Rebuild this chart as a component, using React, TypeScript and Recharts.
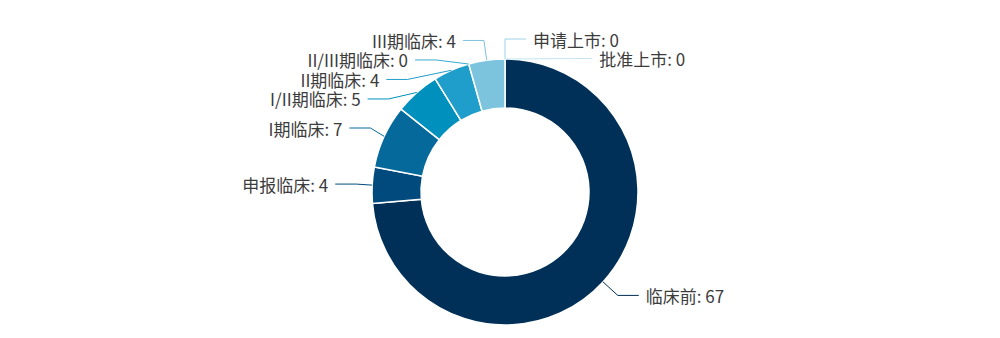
import React from 'react';
import { PieChart, Pie, Cell } from 'recharts';

const stageNames = ['临床前', '申报临床', 'I期临床', 'I/II期临床', 'II期临床', 'II/III期临床', 'III期临床', '申请上市', '批准上市'];
const stageValues = [67, 4, 7, 5, 4, 0, 4, 0, 0];
const stageColors = ['#003057', '#004a7e', '#06699b', '#0090bd', '#209ecb', '#3daad4', '#7cc4de', '#9fd4ea', '#c3e6f3'];

const data = stageNames.map((name, i) => ({ name, value: stageValues[i] }));

const W = 1000;
const H = 338;
const CX = 505;
const CY = 192;
const R_IN = 84;
const R_OUT = 133;
const LEN1 = 20;
const LEN2 = 21;
const GAP = 7;
const LINE_H = 19.5;
const RE_R = 149;
const RAD = Math.PI / 180;
const FONT = '"Noto Sans CJK SC", "Noto Sans", sans-serif';

type LabelPos = { ex: number; ey: number; right: boolean };

function computeLayout(): LabelPos[] {
  const total = stageValues.reduce((a, b) => a + b, 0);
  let cum = 0;
  const items = stageValues.map((v, i) => {
    const start = 90 - (cum / total) * 360;
    cum += v;
    const end = 90 - (cum / total) * 360;
    const mid = (start + end) / 2;
    const c = Math.cos(mid * RAD);
    const s = Math.sin(mid * RAD);
    const ey = CY - (R_OUT + LEN1) * s;
    return {
      i,
      ex: CX + (R_OUT + LEN1) * c,
      ey,
      right: c > -1e-6,
      top: ey < CY,
    };
  });
  [true, false].forEach((side) => {
    const list = items.filter((it) => it.right === side).sort((a, b) => a.ey - b.ey || a.i - b.i);
    const shiftedSemis = new Set<boolean>();
    for (let k = 1; k < list.length; k++) {
      if (list[k].ey < list[k - 1].ey + LINE_H) {
        list[k].ey = list[k - 1].ey + LINE_H;
        shiftedSemis.add(list[k].ey < CY);
      }
    }
    list.forEach((it) => {
      const top = it.ey < CY;
      if (shiftedSemis.has(top)) {
        const dy = it.ey - CY;
        if (Math.abs(dy) < RE_R) {
          const dx = Math.sqrt(RE_R * RE_R - dy * dy);
          it.ex = CX + (it.right ? dx : -dx);
        }
      }
    });
  });
  return items.map((it) => ({ ex: it.ex, ey: it.ey, right: it.right }));
}

const layout = computeLayout();

const renderLabel = (props: any) => {
  const { cx, cy, midAngle, outerRadius, index } = props;
  const sx = cx + outerRadius * Math.cos(-midAngle * RAD);
  const sy = cy + outerRadius * Math.sin(-midAngle * RAD);
  const p = layout[index];
  const dir = p.right ? 1 : -1;
  const hx = p.ex + dir * LEN2;
  const color = stageColors[index];
  return (
    <g key={`lbl-${index}`}>
      <path
        d={`M${sx},${sy}L${p.ex},${p.ey}L${hx},${p.ey}`}
        stroke={color}
        strokeWidth={1}
        fill="none"
      />
      <text
        x={hx + dir * GAP}
        y={p.ey}
        textAnchor={p.right ? 'start' : 'end'}
        dominantBaseline="central"
        fill="#3c3c3c"
        fontSize={17}
        fontFamily={FONT}
      >
        {`${stageNames[index]}: ${stageValues[index]}`}
      </text>
    </g>
  );
};

export default function App() {
  return (
    <div style={{ position: 'absolute', left: 0, top: 0, width: W, height: H, background: '#fff' }}>
      <PieChart width={W} height={H} margin={{ top: 0, right: 0, bottom: 0, left: 0 }}>
        <Pie
          data={data}
          dataKey="value"
          nameKey="name"
          cx={CX}
          cy={CY}
          innerRadius={R_IN}
          outerRadius={R_OUT}
          startAngle={90}
          endAngle={-270}
          stroke="#ffffff"
          strokeWidth={1.5}
          label={renderLabel}
          labelLine={false}
          isAnimationActive={false}
        >
          {data.map((d, i) => (
            <Cell key={d.name} fill={stageColors[i]} />
          ))}
        </Pie>
      </PieChart>
    </div>
  );
}
